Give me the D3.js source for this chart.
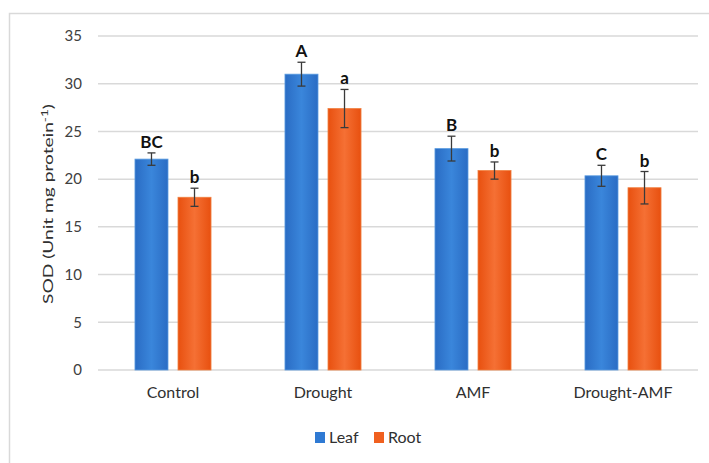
<!DOCTYPE html>
<html><head><meta charset="utf-8">
<script src="https://cdn.jsdelivr.net/npm/d3@7"></script>
<style>body{margin:0;background:#fff}svg{display:block}text{font-family:Lato,"Open Sans",sans-serif}</style>
</head><body><svg id="c" width="709" height="463"></svg>
<script>
const categories = ["Control","Drought","AMF","Drought-AMF"];
const series = ["Leaf","Root"];
const leafValues = [22.1, 31.0, 23.2, 20.35];
const rootValues = [18.1, 27.4, 20.9, 19.1];
const leafErrors = [0.65, 1.25, 1.3, 1.1];
const rootErrors = [0.95, 2.0, 0.9, 1.7];
const leafLetters = ["BC","A","B","C"];
const rootLetters = ["b","a","b","b"];
const yTicks = [0,5,10,15,20,25,30,35];
const colors = {Leaf:"#2F7AD3", Root:"#F0601F"};

const svg = d3.select("#c");
const defs = svg.append("defs");
function grad(id, edge, mid){
  const g = defs.append("linearGradient").attr("id",id).attr("x1","0").attr("x2","1").attr("y1","0").attr("y2","0");
  g.append("stop").attr("offset","0").attr("stop-color",edge);
  g.append("stop").attr("offset","0.5").attr("stop-color",mid);
  g.append("stop").attr("offset","1").attr("stop-color",edge);
}
grad("gLeaf","#2A6CC4","#3A86DB");
grad("gRoot","#E8500F","#F57034");

// outer border
svg.append("path").attr("d","M9.5,463 V13.5 H709").attr("fill","none").attr("stroke","#d9d9d9").attr("stroke-width",1.5);

const y = d3.scaleLinear().domain([0,35]).range([370,36]);
const x0 = d3.scaleBand().domain(categories).range([98,698]).paddingInner(0.493).paddingOuter(0.2465);
const x1 = d3.scaleBand().domain(series).range([0,x0.bandwidth()]).paddingInner(0.2326);

// gridlines
svg.append("g").selectAll("line").data(yTicks).join("line")
  .attr("x1",98).attr("x2",698).attr("y1",d=>y(d)).attr("y2",d=>y(d))
  .attr("stroke","#d9d9d9").attr("stroke-width",1.5);

const yAxis = d3.axisLeft(y).tickValues(yTicks).tickSize(0).tickPadding(16);
const ya = svg.append("g").attr("transform","translate(98,0)").call(yAxis);
ya.select(".domain").remove();
ya.selectAll("text").attr("font-size",15).attr("fill","#404040");

const data = [];
categories.forEach((c,i)=>{
  data.push({cat:c, s:"Leaf", v:leafValues[i], e:leafErrors[i], l:leafLetters[i]});
  data.push({cat:c, s:"Root", v:rootValues[i], e:rootErrors[i], l:rootLetters[i]});
});

const g = svg.append("g");
g.selectAll("rect").data(data).join("rect")
  .attr("x",d=>x0(d.cat)+x1(d.s)).attr("width",x1.bandwidth())
  .attr("y",d=>y(d.v)).attr("height",d=>y(0)-y(d.v))
  .attr("fill",d=>`url(#g${d.s})`)
  .attr("stroke",d=>d.s==="Leaf"?"#5A9BE0":"#F08040").attr("stroke-width",0.8);

const eb = g.selectAll("g.eb").data(data).join("g").attr("class","eb")
  .attr("transform",d=>`translate(${x0(d.cat)+x1(d.s)+x1.bandwidth()/2},0)`);
eb.append("line").attr("y1",d=>y(d.v+d.e)).attr("y2",d=>y(d.v-d.e)).attr("stroke","#3a3a3a").attr("stroke-width",1.3);
eb.append("line").attr("x1",-4).attr("x2",4).attr("y1",d=>y(d.v+d.e)).attr("y2",d=>y(d.v+d.e)).attr("stroke","#3a3a3a").attr("stroke-width",1.3);
eb.append("line").attr("x1",-4).attr("x2",4).attr("y1",d=>y(d.v-d.e)).attr("y2",d=>y(d.v-d.e)).attr("stroke","#3a3a3a").attr("stroke-width",1.3);
eb.append("text").attr("y",d=>y(d.v+d.e)-5).attr("text-anchor","middle")
  .attr("font-size",17).attr("font-weight","bold").attr("fill","#111").text(d=>d.l);

const xAxis = d3.axisBottom(x0).tickSize(0).tickPadding(17);
const xa = svg.append("g").attr("transform","translate(0,370)").call(xAxis);
xa.select(".domain").remove();
xa.selectAll("text").attr("font-size",16).attr("fill","#303030");

// y label
const yl = svg.append("text").attr("transform","translate(53,204) rotate(-90)").attr("text-anchor","middle")
  .attr("font-size",14).attr("fill","#303030")
  .attr("textLength",200).attr("lengthAdjust","spacingAndGlyphs");
yl.append("tspan").text("SOD (Unit mg protein");
yl.append("tspan").attr("dy",-5).attr("font-size",10).text("-1");
yl.append("tspan").attr("dy",5).text(")");

// legend
const legendX = [315, 374];
const lg = svg.append("g").selectAll("g").data(series).join("g")
  .attr("transform",(d,i)=>`translate(${legendX[i]},432)`);
lg.append("rect").attr("width",10).attr("height",11).attr("fill",d=>colors[d]);
lg.append("text").attr("x",14).attr("y",11).attr("font-size",16).attr("fill","#303030").text(d=>d);
</script></body></html>
